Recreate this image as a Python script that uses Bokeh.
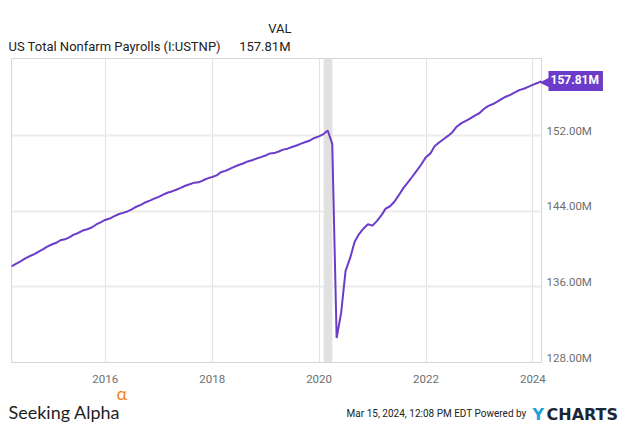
import pandas as pd
from bokeh.plotting import figure
from bokeh.models import (Range1d, FixedTicker, PrintfTickFormatter, DatetimeTickFormatter,
                          BoxAnnotation, Label, LinearAxis)
from bokeh.embed import file_html
from bokeh.resources import INLINE

# ---- data (US Total Nonfarm Payrolls, millions, monthly, Mar 2014 - Feb 2024) ----
start_month = "2014-03-01"
vals_2014 = [138.17, 138.45, 138.70, 139.00, 139.25, 139.45, 139.72, 139.98, 140.28, 140.50]
vals_2015 = [140.68, 140.95, 141.05, 141.25, 141.55, 141.72, 141.98, 142.12, 142.30, 142.62, 142.85, 143.10]
vals_2016 = [143.25, 143.48, 143.70, 143.85, 144.00, 144.22, 144.50, 144.70, 144.95, 145.15, 145.35, 145.55]
vals_2017 = [145.78, 145.98, 146.12, 146.30, 146.50, 146.72, 146.88, 147.05, 147.08, 147.30, 147.50, 147.65]
vals_2018 = [147.82, 148.15, 148.30, 148.50, 148.72, 148.92, 149.08, 149.30, 149.42, 149.60, 149.75, 149.92]
vals_2019 = [150.15, 150.18, 150.35, 150.55, 150.65, 150.82, 150.98, 151.18, 151.35, 151.52, 151.78, 151.95]
vals_2020 = [152.20, 152.57, 151.15, 130.60, 133.30, 137.70, 139.05, 140.80, 141.60, 142.20, 142.65, 142.50]
vals_2021 = [143.00, 143.55, 144.30, 144.55, 145.05, 145.75, 146.50, 147.10, 147.70, 148.35, 149.00, 149.75]
vals_2022 = [150.15, 150.90, 151.30, 151.65, 152.00, 152.40, 153.00, 153.35, 153.60, 153.85, 154.15, 154.40]
vals_2023 = [154.85, 155.15, 155.35, 155.60, 155.90, 156.15, 156.35, 156.60, 156.85, 157.00, 157.20, 157.40]
vals_2024 = [157.60, 157.81]

recession_start = "2020-02-01"
recession_end = "2020-04-01"

x_tick_years = [2016, 2018, 2020, 2022, 2024]
y_ticks = [128, 136, 144, 152]
y_min, y_max = 128, 160.2

title_text = "US Total Nonfarm Payrolls (I:USTNP)"
col_header = "VAL"
timestamp_text = "Mar 15, 2024, 12:08 PM EDT Powered by"

payrolls = (vals_2014 + vals_2015 + vals_2016 + vals_2017 + vals_2018 + vals_2019 +
            vals_2020 + vals_2021 + vals_2022 + vals_2023 + vals_2024)
dates = pd.date_range(start_month, periods=len(payrolls), freq="MS") + pd.offsets.MonthEnd(0)

PURPLE = "#6a3cc9"
GRAY_TXT = "#6e6e6e"
FONT = "Roboto"

# layout (canvas pixels)
FR_LEFT, FR_TOP, FR_W, FR_H = 11, 58, 530, 304
W, H = 635, 424
FR_BOTTOM = FR_TOP + FR_H

p = figure(x_axis_type="datetime", output_backend="svg", toolbar_location=None,
           frame_width=FR_W, frame_height=FR_H,
           min_border_left=FR_LEFT, min_border_right=W - FR_LEFT - FR_W,
           min_border_top=FR_TOP, min_border_bottom=H - FR_BOTTOM,
           x_range=Range1d(dates[0], dates[-1]), y_range=Range1d(y_min, y_max),
           y_axis_location="right")

p.background_fill_color = "white"
p.border_fill_color = "white"
p.outline_line_color = "#d6d6d6"
p.outline_line_width = 1

# recession shading
p.add_layout(BoxAnnotation(left=pd.Timestamp(recession_start), right=pd.Timestamp(recession_end),
                           fill_color="#e1e1e1", fill_alpha=1.0, line_color=None, level="underlay"))

p.line(dates, payrolls, line_color=PURPLE, line_width=2)

# x axis
xt = [pd.Timestamp(f"{y}-01-01").value / 1e6 for y in x_tick_years]
p.xaxis.ticker = FixedTicker(ticks=xt)
p.xaxis.formatter = DatetimeTickFormatter(years="%Y", months="%Y", days="%Y", hours="%Y")

# y axis: main one drives the grid; labels are drawn by an axis lifted a few px above each gridline
main_y = p.yaxis[0]
main_y.ticker = FixedTicker(ticks=y_ticks)
main_y.visible = False
px_per_unit = FR_H / (y_max - y_min)
lift = 5 / px_per_unit
p.extra_y_ranges = {"lbl": Range1d(y_min - lift, y_max - lift)}
lab_y = LinearAxis(y_range_name="lbl", ticker=FixedTicker(ticks=y_ticks),
                   formatter=PrintfTickFormatter(format="%.2fM"))
p.add_layout(lab_y, "right")

for ax in (p.xaxis[0], lab_y):
    ax.axis_line_color = None
    ax.major_tick_line_color = None
    ax.minor_tick_line_color = None
    ax.major_tick_out = 0
    ax.major_tick_in = 0
    ax.major_label_text_font = FONT
    ax.major_label_text_font_size = "11.5px"
    ax.major_label_text_color = GRAY_TXT
p.xaxis[0].major_label_standoff = 12
lab_y.major_label_standoff = 5

p.xgrid.grid_line_color = "#e2e2e2"
p.xgrid.grid_line_width = 1
p.ygrid.grid_line_color = "#ececec"
p.ygrid.grid_line_width = 2

# end-value badge (side panel so it is not clipped to the frame)
last_x = dates[-1]
last_y = payrolls[-1]
p.add_layout(Label(x=last_x, y=last_y, text="\u25c0", x_offset=-2,
                   text_align="left", text_baseline="middle", text_color=PURPLE,
                   text_font="DejaVu Sans", text_font_size="17px"), "right")
p.add_layout(Label(x=last_x, y=last_y, text=f"{last_y:.2f}M", x_offset=7,
                   text_align="left", text_baseline="middle", text_color="white",
                   text_font=FONT, text_font_style="bold", text_font_size="12px",
                   background_fill_color=PURPLE, padding=(2, 4, 2, 4)), "right")


def y_at(px):
    """data value at a canvas pixel row (for placing header/footer texts)"""
    return y_min + (FR_BOTTOM - px) / px_per_unit


def side_label(place, x_px, y_px, text, **kw):
    p.add_layout(Label(x=x_px - FR_LEFT, y=y_at(y_px), x_units="screen", y_units="data",
                       text=text, text_baseline="alphabetic", **kw), place)


# header
side_label("above", 8, 46, title_text, text_font=FONT, text_font_size="13px",
           text_color="#222222", text_align="left")
side_label("above", 290, 46, f"{last_y:.2f}M", text_font=FONT, text_font_size="13px",
           text_color="#222222", text_align="right")
side_label("above", 291, 28, col_header, text_font=FONT, text_font_size="13px",
           text_color="#222222", text_align="right")

# footer
side_label("below", 8, 411, "Seeking Alpha", text_font="Lato", text_font_size="18px",
           text_color="#1e1e1e", text_align="left")
side_label("below", 116, 392, "\u03b1", text_font="Lato", text_font_size="18px",
           text_color="#f5821f", text_align="left")
side_label("below", 526, 413, timestamp_text, text_font=FONT, text_font_size="10px",
           text_color="#222222", text_align="right")
side_label("below", 532, 414, "Y", text_font="DejaVu Sans", text_font_size="16px",
           text_font_style="bold", text_color="#1ba1e2", text_align="left")
side_label("below", 546, 414, "CHARTS", text_font="DejaVu Sans", text_font_size="16px",
           text_font_style="bold", text_color="#1c2634", text_align="left")

open("out.html", "w").write(file_html(p, INLINE))
